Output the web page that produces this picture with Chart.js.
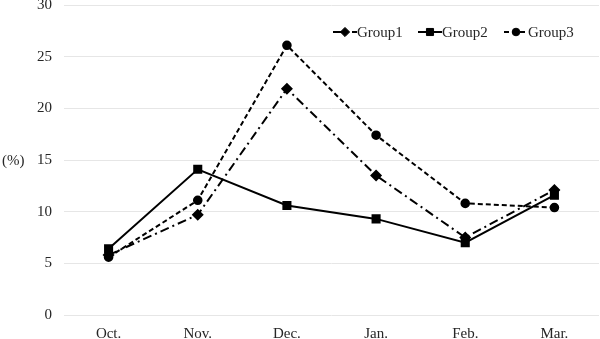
<!DOCTYPE html>
<html>
<head>
<meta charset="utf-8">
<script src="https://cdn.jsdelivr.net/npm/chart.js@4/dist/chart.umd.min.js"></script>
<style>
  html, body { margin: 0; padding: 0; background: #fff; }
  #wrap { width: 600px; height: 339px; }
</style>
</head>
<body>
<div id="wrap"><canvas id="myChart"></canvas></div>
<script>
// data
const months = ["Oct.", "Nov.", "Dec.", "Jan.", "Feb.", "Mar."];
const group1 = [5.8, 9.7, 21.9, 13.5, 7.5, 12.1];
const group2 = [6.4, 14.1, 10.6, 9.3, 7.0, 11.6];
const group3 = [5.6, 11.1, 26.1, 17.4, 10.8, 10.4];
const yTicks = [0, 5, 10, 15, 20, 25, 30];

const serif = "'Liberation Serif', 'DejaVu Serif', serif";
const textColor = "#262626";

// legend + "(%)" label drawn by hand, line sample with marker in the middle
const legendPlugin = {
  id: "lineLegend",
  afterDraw(chart) {
    const ctx = chart.ctx;
    ctx.save();
    ctx.font = "15px " + serif;
    ctx.fillStyle = textColor;
    ctx.textBaseline = "middle";
    ctx.textAlign = "left";
    ctx.fillText("(%)", 2, 161);

    const starts = [333, 418, 504];
    const y = 32;
    chart.data.datasets.forEach((ds, i) => {
      const x0 = starts[i];
      ctx.strokeStyle = ds.borderColor;
      ctx.lineWidth = ds.borderWidth;
      ctx.setLineDash(ds.borderDash || []);
      ctx.beginPath();
      ctx.moveTo(x0, y);
      ctx.lineTo(x0 + 24, y);
      ctx.stroke();
      ctx.setLineDash([]);
      ctx.fillStyle = "#000";
      ctx.lineWidth = 1;
      Chart.helpers.drawPoint(ctx, {
        pointStyle: ds.pointStyle,
        radius: ds.pointRadius,
        rotation: 0,
        borderWidth: 1
      }, x0 + 12, y);
      ctx.fillStyle = textColor;
      ctx.fillText(ds.label, x0 + 24, y + 1);
    });
    ctx.restore();
  }
};

const config = {
  type: "line",
  data: {
    labels: months,
    datasets: [
      {
        label: "Group1",
        data: group1,
        borderColor: "#000",
        backgroundColor: "#000",
        borderWidth: 2,
        borderDash: [9, 4, 2, 4],
        pointStyle: "rectRot",
        pointRadius: 4.6,
        pointHoverRadius: 4.6,
      },
      {
        label: "Group2",
        data: group2,
        borderColor: "#000",
        backgroundColor: "#000",
        borderWidth: 2,
        pointStyle: "rect",
        pointRadius: 5,
        pointHoverRadius: 5,
      },
      {
        label: "Group3",
        data: group3,
        borderColor: "#000",
        backgroundColor: "#000",
        borderWidth: 2,
        borderDash: [5, 3],
        pointStyle: "circle",
        pointRadius: 3.8,
        pointHoverRadius: 3.8,
      },
    ],
  },
  options: {
    responsive: true,
    maintainAspectRatio: false,
    animation: false,
    layout: {
      autoPadding: false,
      padding: { top: 5, right: 1, left: 0, bottom: 0 },
    },
    plugins: {
      legend: { display: false },
      tooltip: { enabled: false },
    },
    scales: {
      x: {
        offset: true,
        grid: { display: false, drawTicks: false },
        border: { display: false },
        ticks: {
          padding: 10,
          color: textColor,
          font: { family: serif, size: 15 },
          maxRotation: 0,
        },
        afterFit(scale) {
          scale.height = 24;
          scale.paddingLeft = 0;
          scale.paddingRight = 0;
        },
      },
      y: {
        min: 0,
        max: 30,
        afterBuildTicks(scale) {
          scale.ticks = yTicks.map((v) => ({ value: v }));
        },
        grid: { color: "#e6e6e6", lineWidth: 1, drawTicks: false },
        border: { display: false },
        ticks: {
          padding: 12,
          color: textColor,
          font: { family: serif, size: 15 },
        },
        afterFit(scale) {
          scale.width = 64;
          scale.paddingTop = 0;
          scale.paddingBottom = 0;
        },
      },
    },
  },
  plugins: [legendPlugin],
};

const lineChart = new Chart(document.getElementById("myChart"), config);
</script>
</body>
</html>
